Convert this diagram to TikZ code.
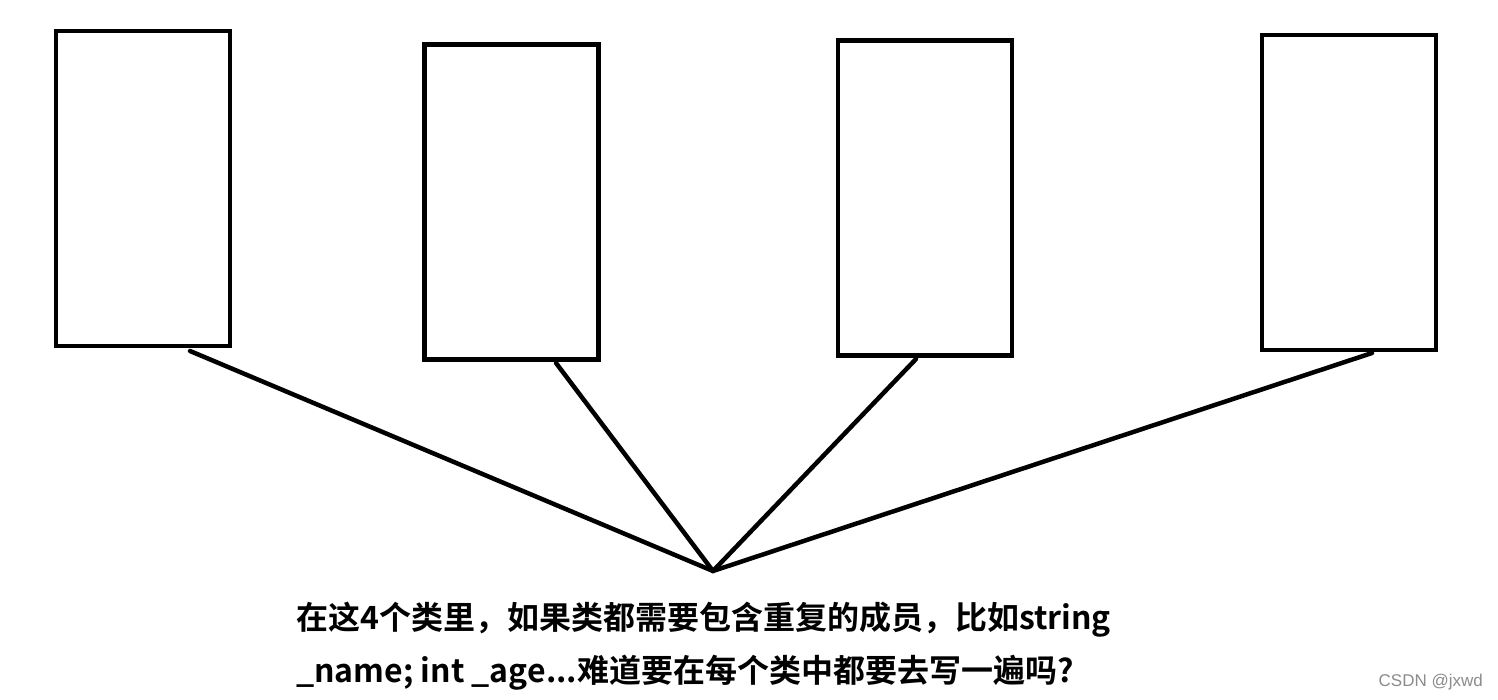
\documentclass[tikz,border=0pt]{standalone}
\usepackage{fontspec}
\newfontfamily\cjk{Noto Sans CJK SC}[BoldFont={Noto Sans CJK SC Bold}]
\newfontfamily\wm{Liberation Sans}
\begin{document}
\begin{tikzpicture}[x=1pt,y=-1pt,
  cls/.style={draw=black,line width=4.8pt,minimum width=174pt,minimum height=315pt,inner sep=0pt,outer sep=0pt},
  conn/.style={draw=black,line width=4.5pt,line cap=round},
  txt/.style={anchor=base west,inner sep=0pt,font=\cjk\bfseries\fontsize{32}{38}\selectfont},
  wmark/.style={anchor=base east,inner sep=0pt,text=black!45,font=\wm\fontsize{17}{20}\selectfont}]
\useasboundingbox[fill=white] (0,0) rectangle (1498,700);
\node[cls] (b1) at (143,188.5) {};
\node[cls] (b2) at (511.5,202) {};
\node[cls] (b3) at (925,198) {};
\node[cls] (b4) at (1349,192.5) {};
\coordinate (s1) at (190,351);
\coordinate (s2) at (556,363);
\coordinate (s3) at (916,359);
\coordinate (s4) at (1372,353);
\coordinate (hub) at (713,571);
\draw[conn] (s1) -- (hub);
\draw[conn] (s2) -- (hub);
\draw[conn] (s3) -- (hub);
\draw[conn] (s4) -- (hub);
\node[txt] (t1) at (296,629) {在这4个类里，如果类都需要包含重复的成员，比如string};
\node[txt] (t2) at (296,682) {\_name; int \_age...难道要在每个类中都要去写一遍吗?};
\node[wmark] (wm) at (1483,686) {CSDN @jxwd};
\end{tikzpicture}
\end{document}
